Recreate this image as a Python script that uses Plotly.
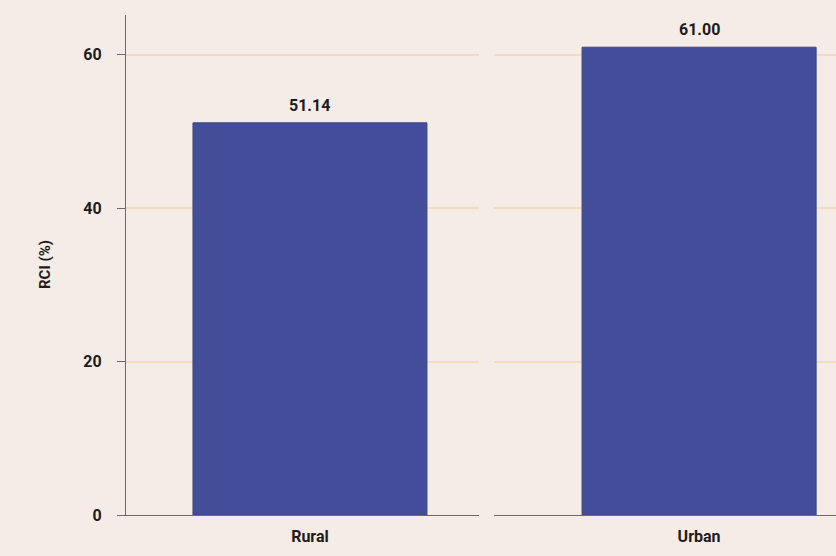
import plotly.graph_objects as go

categories = ["Rural", "Urban"]
rci_values = [51.14, 61.00]
value_labels = ["51.14", "61.00"]
y_ticks = [0, 20, 40, 60]

BG = "#f5ece7"
BAR = "#434d9a"
GRID = "#f1dcbd"
AXIS = "#6f6969"
TXT = "#1e1b1b"
FONT = "Roboto"

fig = go.Figure()

fig.add_trace(go.Bar(x=[categories[0]], y=[rci_values[0]], xaxis="x", yaxis="y",
                     width=0.8, marker=dict(color=BAR, line=dict(color="#3a4780", width=1)),
                     showlegend=False, hoverinfo="y"))
fig.add_trace(go.Bar(x=[categories[1]], y=[rci_values[1]], xaxis="x2", yaxis="y2",
                     width=0.8, marker=dict(color=BAR, line=dict(color="#3a4780", width=1)),
                     showlegend=False, hoverinfo="y"))

for i, (c, v, t) in enumerate(zip(categories, rci_values, value_labels)):
    fig.add_annotation(x=c, y=v, xref="x" if i == 0 else "x2", yref="y" if i == 0 else "y2",
                       text=t, showarrow=False, yanchor="bottom", yshift=6,
                       font=dict(family=FONT, size=16, color=TXT, weight="bold"))

W, H = 836, 556
L, R, T, B = 126, 0, 15, 41
pw = W - L - R
x1_end = (479 - L) / pw
x2_start = (494 - L) / pw

xcommon = dict(type="category", showline=True, linecolor=AXIS, linewidth=1.2,
               showgrid=False, zeroline=False, ticks="",
               tickfont=dict(family=FONT, size=16, color=TXT, weight="bold"),
               ticklabelstandoff=7)

fig.update_layout(
    width=W, height=H,
    margin=dict(l=L, r=R, t=T, b=B),
    paper_bgcolor=BG, plot_bgcolor=BG,
    xaxis=dict(domain=[0, x1_end], range=[-0.629, 0.578], anchor="y", **xcommon),
    xaxis2=dict(domain=[x2_start, 1], range=[-0.701, 0.468], anchor="y2", **xcommon),
    yaxis=dict(range=[0, 65.2], tickvals=y_ticks, showline=True, linecolor=AXIS, linewidth=1.2,
               ticks="outside", ticklen=8, tickcolor=AXIS, tickwidth=1.2,
               showgrid=True, gridcolor=GRID, gridwidth=1.5, zeroline=False,
               tickfont=dict(family=FONT, size=16, color=TXT, weight="bold"),
               ticklabelstandoff=12, anchor="x"),
    yaxis2=dict(range=[0, 65.2], tickvals=y_ticks, showline=False, showticklabels=False,
                ticks="", showgrid=True, gridcolor=GRID, gridwidth=1.5, zeroline=False,
                anchor="x2"),
    bargap=0.2,
)

fig.add_annotation(x=(45 - L) / pw, y=0.5, xref="paper", yref="paper", text="RCI (%)",
                   showarrow=False, textangle=-90, xanchor="center", yanchor="middle",
                   font=dict(family=FONT, size=15, color=TXT, weight="bold"))

fig.write_html("out.html")
